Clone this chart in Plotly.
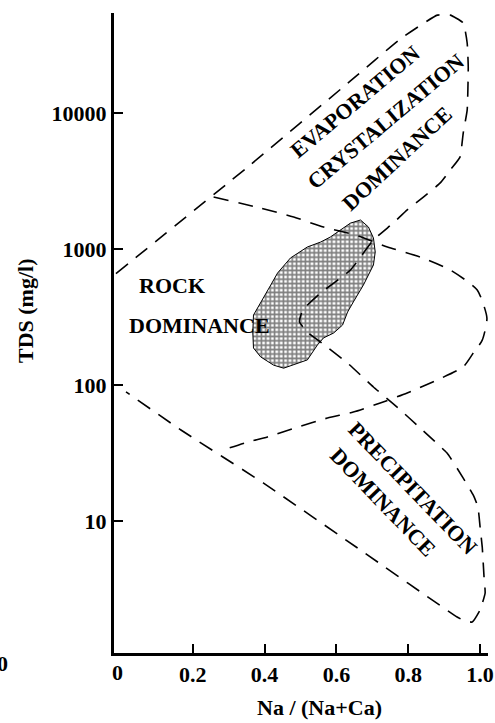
import plotly.graph_objects as go
import math

# ---- data (Na/(Na+Ca) ratio, TDS mg/l) ----
outer_x = [-0.014, 0.353, 0.639, 0.778, 0.881, 0.917, 0.953, 0.964, 0.967, 0.964, 0.953, 0.944,
           0.917, 0.889, 0.842, 0.797, 0.758, 0.703, 0.639, 0.556, 0.506, 0.497, 0.522, 0.556,
           0.631, 0.703, 0.769, 0.839, 0.908, 0.953, 0.981, 0.994, 1.0, 1.006, 1.011, 1.014,
           1.0, 0.978, 0.953, 0.936, 0.667, 0.397, 0.167, 0.014]
outer_tds = [660, 4010, 17200, 35000, 52400, 52400, 45900, 32700, 21800, 10500, 7120, 4740,
             3810, 3060, 2410, 1940, 1550, 1165, 701, 475, 356, 291, 241, 207,
             145, 96.7, 68.9, 46.7, 31.6, 20.7, 15.5, 12.7, 9.03, 6.44, 3.87, 2.96,
             2.22, 1.81, 1.87, 1.97, 6.12, 19.0, 46.7, 89]

inner_x = [0.258, 0.389, 0.481, 0.564, 0.653, 0.742, 0.833, 0.917, 0.992, 1.019, 1.006, 0.981,
           0.953, 0.881, 0.797, 0.722, 0.647, 0.575, 0.492, 0.408, 0.353, 0.300]
inner_tds = [2410, 2000, 1718, 1450, 1268, 1035, 873, 701, 500, 311, 214, 172,
             136, 109, 87.4, 73.8, 63.3, 57.2, 49.1, 41.5, 38.1, 34.4]

sample_x = [0.667, 0.689, 0.703, 0.708, 0.703, 0.689, 0.675, 0.647, 0.631, 0.617, 0.592, 0.564,
            0.547, 0.519, 0.492, 0.453, 0.425, 0.389, 0.369, 0.367, 0.369, 0.389, 0.417, 0.436,
            0.472, 0.519, 0.556, 0.583, 0.611, 0.639, 0.667]
sample_tds = [1634, 1452, 1205, 951, 763, 644, 543, 408, 344, 276, 241, 222,
              197, 153, 145, 133, 140, 161, 187, 245, 327, 408, 543, 666,
              859, 1035, 1125, 1225, 1380, 1550, 1634]

x_tickvals = [0.2, 0.4, 0.6, 0.8, 1.0]
x_ticktext = ["0.2", "0.4", "0.6", "0.8", "1.0"]
y_tickvals = [10, 100, 1000, 10000]
y_ticktext = ["10", "100", "1000", "10000"]

# region labels: (text, x, TDS, angle)
labels = [
    ("EVAPORATION", 0.653, 12050, -40),
    ("CRYSTALIZATION", 0.736, 8730, -40),
    ("DOMINANCE", 0.769, 4590, -43),
    ("ROCK", 0.142, 543, 0),
    ("DOMINANCE", 0.219, 276, 0),
    ("PRECIPITATION", 0.814, 17.5, 46),
    ("DOMINANCE", 0.731, 13.8, 46),
]

FONT = "Liberation Serif"
BOLD = dict(family=FONT, size=22, color="black", weight="bold")
fig = go.Figure()

fig.add_trace(go.Scatter(
    x=sample_x, y=sample_tds, mode="lines", fill="toself",
    fillcolor="white",
    fillpattern=dict(shape="+", fgcolor="black", bgcolor="white", size=4.4, solidity=0.6),
    line=dict(color="black", width=1), hoverinfo="skip", showlegend=False))

fig.add_trace(go.Scatter(
    x=outer_x, y=outer_tds, mode="lines",
    line=dict(color="black", width=1.6, dash="15px,10px", shape="spline", smoothing=0.4),
    hoverinfo="skip", showlegend=False))

fig.add_trace(go.Scatter(
    x=inner_x, y=inner_tds, mode="lines",
    line=dict(color="black", width=1.6, dash="15px,10px", shape="spline", smoothing=0.6),
    hoverinfo="skip", showlegend=False))

for text, lx, ly, ang in labels:
    fig.add_annotation(x=lx, y=math.log10(ly), xref="x", yref="y", text=text,
                       textangle=ang, showarrow=False, xanchor="center", yanchor="middle",
                       font=BOLD)

# "0" label at the origin of the x axis
fig.add_annotation(x=0, y=0, xref="x", yref="paper", text="0", showarrow=False,
                   xanchor="center", yanchor="top", yshift=-5, xshift=-3, font=BOLD)
# clipped remnant of neighbouring panel
fig.add_annotation(x=0, y=0, xref="paper", yref="paper", text="0", showarrow=False,
                   xanchor="center", yanchor="top", yshift=4, xshift=-112, font=BOLD)

# axis titles
fig.add_annotation(x=0.55, y=0, xref="paper", yref="paper", text="Na / (Na+Ca)",
                   showarrow=False, xanchor="center", yanchor="middle", yshift=-54, font=BOLD)
fig.add_annotation(x=0, y=0.5, xref="paper", yref="paper", text="TDS (mg/l)",
                   textangle=-90, showarrow=False, xanchor="center", yanchor="middle",
                   xshift=-89, yshift=22, font=BOLD)

fig.update_layout(
    width=495, height=723,
    margin=dict(l=114, r=7, t=13, b=70),
    paper_bgcolor="white", plot_bgcolor="white",
    showlegend=False,
    xaxis=dict(range=[-0.0194, 1.022], showgrid=False, zeroline=False, automargin=False,
               showline=True, linecolor="black", linewidth=3,
               ticks="inside", ticklen=9, tickwidth=2, tickcolor="black",
               tickvals=x_tickvals, ticktext=x_ticktext, tickfont=BOLD),
    yaxis=dict(type="log", range=[0.03, 4.735], showgrid=False, zeroline=False, automargin=False,
               showline=True, linecolor="black", linewidth=3,
               ticks="inside", ticklen=9, tickwidth=2, tickcolor="black",
               tickvals=y_tickvals, ticktext=y_ticktext, tickfont=BOLD),
)

fig.write_html("out.html", config={"displayModeBar": False},
               post_script="document.body.style.margin='0px';document.body.style.overflow='hidden';")
